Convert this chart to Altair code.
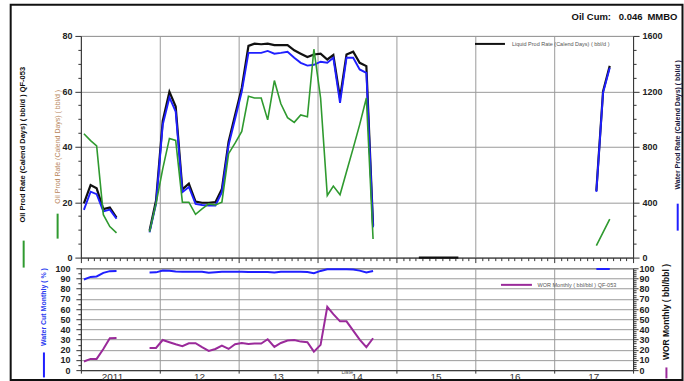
import altair as alt
import pandas as pd

FONT = "Liberation Sans"
GREEN = "#2f9a2f"
BLUE = "#1f1fff"
PURPLE = "#9a2a9a"
BLACK = "#111111"
GRID = "#9a9a9a"

# ---------------- production history (monthly, plotted mid-month) ----------------
# Jan-Jun 2011
liquid_a = [392, 524, 500, 350, 362, 288]
water_a = [344, 476, 458, 334, 346, 280]
oil_a = [44.7, 42.2, 40.3, 15.5, 11.2, 8.9]
wcut_a = [89.0, 91.5, 92.0, 95.5, 97.2, 97.4]
wor_a = [8.5, 11.0, 11.0, 20.8, 31.3, 31.6]

# Nov 2011 - Sep 2014
liquid_b = [194, 412, 986, 1196, 1090, 492, 534, 404, 396, 396, 400, 496, 836, 1030,
            1224, 1528, 1544, 1540, 1544, 1534, 1534, 1534, 1496, 1472, 1448, 1466,
            1472, 1430, 1462, 1152, 1466, 1486, 1406, 1382, 230]
water_b = [182, 388, 958, 1156, 1054, 472, 510, 388, 380, 376, 376, 472, 812, 1000,
           1198, 1478, 1478, 1478, 1492, 1472, 1478, 1486, 1442, 1406, 1386, 1392,
           1414, 1406, 1442, 1116, 1442, 1442, 1358, 1334, 218]
oil_b = [9.3, 19.5, 32.0, 43.0, 42.3, 20.0, 20.0, 15.6, 17.6, 19.4, 19.0, 20.0, 37.5,
         41.3, 45.5, 58.2, 57.6, 57.6, 49.7, 63.9, 55.5, 50.5, 48.8, 51.5, 50.8, 75.2,
         57.6, 22.4, 25.8, 22.7, 31.0, 39.5, 48.0, 57.6, 6.7]
wcut_b = [95.8, 96.0, 97.7, 97.5, 96.8, 96.7, 96.7, 96.7, 96.5, 95.6, 96.2, 96.6, 96.7,
          96.7, 96.7, 96.4, 96.4, 96.4, 96.4, 95.8, 96.7, 96.7, 96.7, 96.6, 96.4, 95.1,
          97.4, 99.0, 99.0, 99.0, 99.0, 98.8, 97.7, 95.8, 97.4]
wor_b = [21.8, 21.8, 29.6, 27.4, 25.4, 23.5, 26.4, 26.4, 22.5, 18.9, 20.8, 24.1, 20.8,
         25.4, 26.7, 25.7, 26.1, 26.1, 30.3, 22.8, 26.7, 29.0, 29.6, 28.0, 27.4, 18.2,
         24.8, 62.2, 55.0, 47.9, 47.9, 38.8, 30.0, 22.5, 31.3]

# Apr - Oct 2015 (shut in)
liquid_c = [0, 0, 0, 0, 0, 0, 0]

# Jul - Sep 2017
liquid_d = [482, 1200, 1384]
water_d = [474, 1190, 1370]
oil_d = [4.3, 9.1, 13.9]
wcut_d = [99.3, 99.3, 99.3]

# ---------------- text ----------------
title_oil_main = "Oil Prod Rate (Calend Days) ( bbl/d ) QF-053"
title_oil_alt = "Oil Prod Rate (Calend Days) ( bbl/d )"
title_water = "Water Prod Rate (Calend Days) ( bbl/d )"
title_wcut = "Water Cut Monthly ( % )"
title_wor = "WOR Monthly ( bbl/bbl )"
legend_liquid = "Liquid Prod Rate (Calend Days) ( bbl/d )"
legend_wor = "WOR Monthly ( bbl/bbl ) QF-053"
cum_label, cum_value, cum_unit = "Oil Cum:", "0.046", "MMBO"
date_label = "Date"


def mid_months(start, n):
    t0 = pd.Timestamp(start + "-01")
    return [(t0 + pd.DateOffset(months=i, days=14)).strftime("%Y-%m-%d") for i in range(n)]


segments = [
    ("a", mid_months("2011-01", 6), liquid_a, water_a, oil_a, wcut_a, wor_a),
    ("b", mid_months("2011-11", 35), liquid_b, water_b, oil_b, wcut_b, wor_b),
    ("c", mid_months("2015-04", 7), liquid_c, None, None, None, None),
    ("d", mid_months("2017-07", 3), liquid_d, water_d, oil_d, wcut_d, None),
]
rows = []
for seg, months, liq, wat, oil, wc, wor in segments:
    for i, m in enumerate(months):
        rows.append({
            "date": m, "seg": seg, "liquid": liq[i],
            "water": wat[i] if wat else None,
            "oil": oil[i] if oil else None,
            "wcut": wc[i] if wc else None,
            "wor": wor[i] if wor else None,
        })
df = pd.DataFrame(rows)


def cond(test, yes, no):
    return {"condition": {"test": test, "value": yes}, "value": no}


def dt(y, m):
    return alt.DateTime(year=y, month=m, date=1, utc=True)


x_domain = [dt(2011, 1), dt(2018, 1)]
month_starts = [dt(y, m) for y in range(2011, 2018) for m in range(1, 13)] + [dt(2018, 1)]
half_years = [dt(y, m) for y in range(2011, 2018) for m in (1, 7)] + [dt(2018, 1)]

axis_common = dict(title=None, domainColor="#333", tickColor="#333", gridColor=GRID,
                   labelFont=FONT, labelFontSize=9, labelFontWeight="bold",
                   labelColor="#222", labelOverlap=False, labelFlush=False)

is_jan = "utcmonth(datum.value) === 0"

x_upper = alt.X("date:T", scale=alt.Scale(domain=x_domain), axis=alt.Axis(
    values=month_starts, labels=False, grid=True,
    gridOpacity=cond(is_jan, 1, 0), tickSize=cond(is_jan, 5, 3), **axis_common))

x_lower = alt.X("date:T", scale=alt.Scale(domain=x_domain), axis=alt.Axis(
    values=half_years, grid=True, gridOpacity=cond(is_jan, 1, 0),
    tickSize=cond(is_jan, 3, 0), labelPadding=1,
    labelExpr="utcmonth(datum.value) === 6 ? (utcyear(datum.value) === 2011 ? '2011' : utcFormat(datum.value, '%y')) : ''",
    labelOffset=cond("utcyear(datum.value) === 2011", -8, 0),
    **{**axis_common, "labelFontSize": 10, "labelFontWeight": "normal", "labelColor": "#333"}))

W, H_UP, H_LO = 553, 222, 102

# ---------------- upper panel: rates ----------------
y_oil = alt.Y("oil:Q", scale=alt.Scale(domain=[0, 80]), axis=alt.Axis(
    orient="left", values=list(range(0, 81, 5)), format="d",
    labelExpr="datum.value % 20 === 0 ? datum.label : ''",
    grid=True, gridOpacity=cond("datum.value % 20 === 0", 1, 0),
    tickSize=cond("datum.value % 20 === 0", 6, 3), labelPadding=3, **axis_common))

right_axis = alt.Axis(
    orient="right", values=list(range(0, 1601, 100)), format="d",
    labelExpr="datum.value % 400 === 0 ? datum.label : ''", grid=False,
    tickSize=cond("datum.value % 400 === 0", 6, 3), labelPadding=3, **axis_common)
right_scale = alt.Scale(domain=[0, 1600])

base = alt.Chart(df)
liquid_line = base.mark_line(color=BLACK, strokeWidth=2.2).encode(
    x=x_upper, y=alt.Y("liquid:Q", scale=right_scale, axis=right_axis), detail="seg:N")
water_line = base.mark_line(color=BLUE, strokeWidth=1.9).encode(
    x=x_upper, y=alt.Y("water:Q", scale=right_scale, axis=right_axis), detail="seg:N")
oil_line = base.mark_line(color=GREEN, strokeWidth=1.6).encode(
    x=x_upper, y=y_oil, detail="seg:N")

one = pd.DataFrame({"k": [0]})


def label(text, x, y, size, color="#111", weight="normal", angle=0, align="center"):
    return alt.Chart(one).mark_text(
        text=text, font=FONT, fontSize=size, fontWeight=weight, color=color,
        angle=angle, align=align, baseline="middle").encode(x=alt.value(x), y=alt.value(y))


def stroke(x1, y1, x2, y2, color, width):
    return alt.Chart(one).mark_rule(color=color, strokeWidth=width).encode(
        x=alt.value(x1), y=alt.value(y1), x2=alt.value(x2), y2=alt.value(y2))


frame = alt.Chart(one).mark_rect(fillOpacity=0, stroke="#111", strokeWidth=2).encode(
    x=alt.value(-70.3), x2=alt.value(602.5), y=alt.value(-31.3), y2=alt.value(344.5))

upper = alt.layer(
    alt.layer(liquid_line, water_line),
    oil_line,
    frame,
    label(title_oil_main, -57.6, 109, 7.5, "#111", "bold", 270),
    stroke(-57.3, 205, -57.3, 232, GREEN, 2),
    label(title_oil_alt, -23.3, 111, 7, "#b8865b", "normal", 270),
    stroke(-23.3, 178, -23.3, 203, GREEN, 2),
    label(title_water, 597.7, 89, 7, "#1a1a40", "bold", 270),
    stroke(597.7, 168, 597.7, 195, BLUE, 2),
    stroke(394.7, 8, 424.7, 8, BLACK, 2),
    label(legend_liquid, 431.7, 8, 5.5, "#555", "normal", 0, "left"),
    label(cum_label, 491.4, -19, 9.5, "#111", "bold", 0, "left"),
    label(cum_value, 538.7, -19, 9.5, "#111", "bold", 0, "left"),
    label(cum_unit, 567.4, -19, 9.5, "#111", "bold", 0, "left"),
).resolve_scale(y="independent").properties(
    width=W, height=H_UP, view=alt.ViewBackground(stroke="#999"))

# ---------------- lower panel: water cut and WOR ----------------
wcut_line = base.mark_line(color=BLUE, strokeWidth=2).encode(
    x=x_lower,
    y=alt.Y("wcut:Q", scale=alt.Scale(domain=[0, 100]), axis=alt.Axis(
        orient="left", values=list(range(0, 101, 5)), format="d",
        labelExpr="datum.value % 10 === 0 ? datum.label : ''",
        grid=True, gridOpacity=cond("datum.value % 10 === 0", 1, 0),
        tickSize=cond("datum.value % 10 === 0", 5, 3), labelPadding=6, **axis_common)),
    detail="seg:N")
wor_line = base.mark_line(color=PURPLE, strokeWidth=2).encode(
    x=x_lower,
    y=alt.Y("wor:Q", scale=alt.Scale(domain=[0, 100]), axis=alt.Axis(
        orient="right", values=list(range(0, 101, 2)), format="d",
        labelExpr="datum.value % 10 === 0 ? datum.label : ''", grid=False,
        tickSize=cond("datum.value % 10 === 0", 5, 3), labelPadding=1, **axis_common)),
    detail="seg:N")

lower = alt.layer(
    wcut_line,
    wor_line,
    label(title_wcut, -37, 38.8, 7, "#2b3cf0", "bold", 270),
    stroke(-37, 84.3, -37, 109.3, BLUE, 2),
    label(title_wor, 586.4, 43.8, 8.5, "#111", "bold", 270),
    stroke(586.4, 99.3, 586.4, 110.3, PURPLE, 2),
    stroke(420.7, 16.6, 451.7, 16.6, PURPLE, 2),
    label(legend_wor, 457.4, 16.6, 5.5, "#555", "normal", 0, "left"),
    label(date_label, 266.7, 104, 5.5, "#555"),
).resolve_scale(y="independent").properties(
    width=W, height=H_LO, view=alt.ViewBackground(stroke="#333"))

chart = alt.vconcat(upper, lower, spacing=10.7, bounds="flush").properties(
    padding={"left": 9, "top": 2.7, "right": 0, "bottom": 0},
    background="white",
)

chart.save("out.html", embed_options={"renderer": "svg", "actions": False})
